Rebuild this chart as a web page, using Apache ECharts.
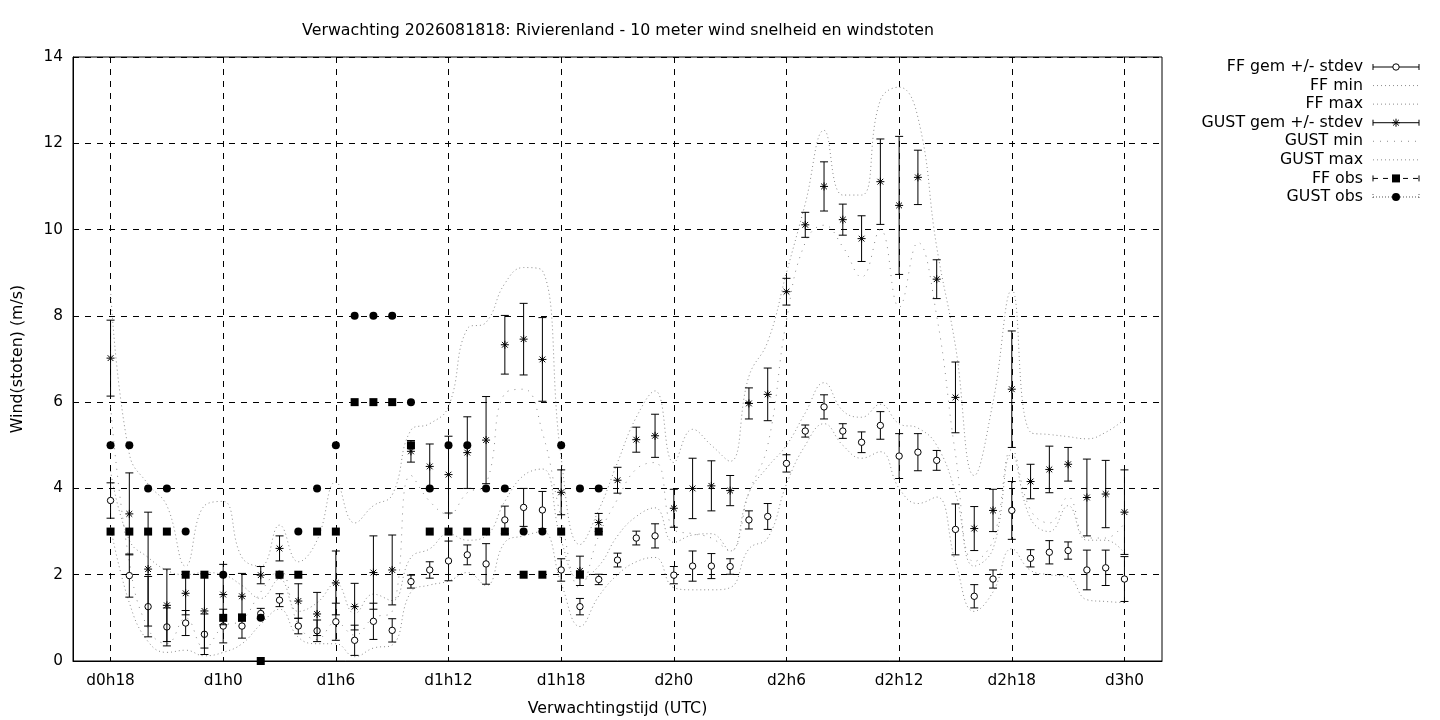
<!DOCTYPE html>
<html>
<head>
<meta charset="utf-8">
<script src="https://cdn.jsdelivr.net/npm/echarts@6/dist/echarts.min.js"></script>
<style>
html,body{margin:0;padding:0;background:#fff;}
#chart{width:1440px;height:720px;}
</style>
</head>
<body>
<div id="chart"></div>
<script>
// ---------- tick labels / categories (hourly, d0h16 .. d3h2) ----------
const categories = [
  'd0h16','d0h17','d0h18','d0h19','d0h20','d0h21','d0h22','d0h23',
  'd1h0','d1h1','d1h2','d1h3','d1h4','d1h5','d1h6','d1h7','d1h8','d1h9','d1h10','d1h11',
  'd1h12','d1h13','d1h14','d1h15','d1h16','d1h17','d1h18','d1h19','d1h20','d1h21','d1h22','d1h23',
  'd2h0','d2h1','d2h2','d2h3','d2h4','d2h5','d2h6','d2h7','d2h8','d2h9','d2h10','d2h11',
  'd2h12','d2h13','d2h14','d2h15','d2h16','d2h17','d2h18','d2h19','d2h20','d2h21','d2h22','d2h23',
  'd3h0','d3h1','d3h2'
];
const firstIndex = 2;          // forecast/observation series start at d0h18
const labelStep = 6;           // a label every 6 hours
const yTicks = [0, 2, 4, 6, 8, 10, 12, 14];

// ---------- forecast series (d0h18 .. d3h0) ----------
const ffMean = [3.72,1.98,1.26,0.79,0.88,0.62,0.81,0.81,1.10,1.41,0.81,0.70,0.91,0.48,0.92,0.71,
  1.84,2.11,2.32,2.46,2.25,3.27,3.56,3.50,2.11,1.26,1.89,2.34,2.85,2.90,1.99,2.20,2.20,2.19,
  3.27,3.35,4.58,5.33,5.89,5.33,5.07,5.46,4.75,4.84,4.65,3.05,1.50,1.90,3.49,2.38,2.52,2.56,2.11,2.16,1.90];
const ffStd = [0.41,0.50,0.70,0.44,0.29,0.47,0.39,0.28,0.12,0.15,0.18,0.25,0.43,0.35,0.42,0.27,
  0.15,0.19,0.46,0.23,0.47,0.32,0.44,0.43,0.26,0.19,0.12,0.16,0.16,0.28,0.20,0.35,0.29,0.18,
  0.21,0.30,0.20,0.14,0.28,0.17,0.24,0.32,0.52,0.43,0.23,0.59,0.27,0.21,0.67,0.20,0.27,0.20,0.46,0.41,0.52];
const ffMin = [3.10,1.35,0.45,0.20,0.25,0.12,0.20,0.40,0.85,1.20,0.55,0.40,0.40,0.10,0.30,0.37,
  1.60,1.76,1.85,2.05,1.75,2.75,2.90,3.00,1.80,0.80,1.50,2.00,2.30,2.40,1.70,1.65,1.65,1.70,
  2.60,2.85,4.10,5.00,5.50,5.00,4.70,4.85,4.00,3.65,3.80,2.30,1.15,1.60,2.60,2.10,2.00,1.95,1.42,1.38,1.35];
const ffMax = [4.40,2.80,2.40,2.10,2.00,2.05,2.00,1.75,1.45,1.90,1.15,1.35,1.80,1.10,1.55,1.40,
  2.40,2.60,2.95,2.80,2.90,3.70,4.30,4.45,2.80,1.90,2.20,2.90,3.35,3.55,2.75,2.92,2.95,2.55,
  3.90,4.50,5.00,5.75,6.45,5.80,5.65,5.95,5.50,5.40,5.00,3.90,2.20,2.60,4.80,3.30,3.00,3.60,2.80,2.80,2.50];
const gustMean = [7.02,3.41,2.13,1.29,1.57,1.16,1.54,1.50,1.99,2.61,1.39,1.09,1.81,1.26,2.05,2.11,
  4.86,4.51,4.32,4.83,5.12,7.33,7.46,6.99,3.91,2.09,3.21,4.19,5.13,5.22,3.54,4.00,4.06,3.95,
  5.97,6.18,8.56,10.11,11.00,10.23,9.79,11.11,10.56,11.21,8.85,6.11,3.07,3.49,6.30,4.16,4.44,4.56,3.79,3.87,3.45];
const gustStd = [0.88,0.95,1.32,0.84,0.50,0.86,0.70,0.53,0.20,0.29,0.40,0.50,0.74,0.54,0.85,0.81,
  0.25,0.52,0.89,0.83,1.01,0.68,0.83,0.97,0.52,0.34,0.21,0.30,0.29,0.50,0.44,0.70,0.58,0.35,
  0.36,0.61,0.31,0.29,0.57,0.36,0.53,0.99,1.60,0.63,0.45,0.82,0.51,0.49,1.35,0.40,0.54,0.39,0.89,0.78,0.98];
const gustMin = [5.90,2.30,0.75,0.40,1.00,0.30,0.80,0.95,1.60,2.10,0.85,0.50,0.90,0.60,1.00,1.15,
  4.30,3.70,3.40,3.90,4.10,6.20,6.30,5.30,3.30,1.70,2.90,3.75,4.45,4.60,3.05,2.95,2.85,2.55,
  3.90,5.00,7.90,9.70,10.10,9.60,8.90,10.00,8.20,9.70,8.00,4.80,2.30,2.80,4.90,3.50,3.20,3.80,2.85,2.85,3.20];
const gustMax = [8.60,4.80,4.10,3.60,2.20,3.60,3.70,2.40,2.20,3.15,2.30,2.80,4.15,3.20,3.60,3.85,
  5.35,5.50,5.90,7.70,7.85,8.75,9.12,9.05,4.70,2.70,3.50,4.60,5.65,6.26,4.60,5.37,5.00,4.63,
  6.60,7.40,9.00,10.60,12.30,10.80,10.80,13.00,13.30,12.60,9.60,7.30,4.30,6.00,8.60,5.30,5.25,5.20,5.15,5.30,5.60];

// ---------- observations (d0h18 .. d1h20) ----------
const ffObs   = [3,3,3,3,2,2,1,1,0,2,2,3,3,6,6,6,5,3,3,3,3,3,2,2,3,2,3];
const gustObs = [5,5,4,4,3,null,2,null,1,2,3,4,5,8,8,8,6,4,5,5,4,4,3,3,5,4,4];

const legendLabels = ['FF gem +/- stdev','FF min','FF max','GUST gem +/- stdev','GUST min','GUST max','FF obs','GUST obs'];

// ---------- helpers ----------
const FONT = 'DejaVu Sans';
const FS = 15.8;
const FS_TICK = 15.3;
const pairs = arr => arr.map((v, i) => [i + firstIndex, v]).filter(p => p[1] !== null);
const bars = (m, s) => m.map((v, i) => [i + firstIndex, v, s[i]]);
const showTick = idx => (idx - firstIndex) % labelStep === 0;

function starShapes(cx, cy, r, st) {
  const d = r * 0.72;
  return [
    {type:'line', shape:{x1:cx-r,y1:cy,x2:cx+r,y2:cy}, style:st},
    {type:'line', shape:{x1:cx,y1:cy-r,x2:cx,y2:cy+r}, style:st},
    {type:'line', shape:{x1:cx-d,y1:cy-d,x2:cx+d,y2:cy+d}, style:st},
    {type:'line', shape:{x1:cx-d,y1:cy+d,x2:cx+d,y2:cy-d}, style:st}
  ];
}

function errorBar(marker) {
  return function (params, api) {
    const x = api.value(0), m = api.value(1), s = api.value(2);
    const top = api.coord([x, m + s]);
    const bot = api.coord([x, m - s]);
    const mid = api.coord([x, m]);
    const st = {stroke:'#000', lineWidth:1};
    const children = [
      {type:'line', shape:{x1:top[0],y1:top[1],x2:bot[0],y2:bot[1]}, style:st},
      {type:'line', shape:{x1:top[0]-4,y1:top[1],x2:top[0]+4,y2:top[1]}, style:st},
      {type:'line', shape:{x1:bot[0]-4,y1:bot[1],x2:bot[0]+4,y2:bot[1]}, style:st}
    ];
    if (marker === 'circle') {
      children.push({type:'circle', shape:{cx:mid[0], cy:mid[1], r:3.2}, style:{fill:'#fff', stroke:'#000', lineWidth:1}});
    } else {
      children.push.apply(children, starShapes(mid[0], mid[1], 4, st));
    }
    return {type:'group', children};
  };
}

const curveColor = '#8c8c8c';
function curve(name, data, dash) {
  return {
    name, type:'line', data: pairs(data), smooth: 0.45, symbol:'none',
    lineStyle:{color:curveColor, width:1, type:dash}, z:3, silent:true
  };
}

// ---------- legend drawn in gnuplot style (text, then sample) ----------
const legX = 1363, sx1 = 1373, sx2 = 1419, smid = 1396;
const legY0 = 67, legDy = 18.57;
const legendGraphics = [];
legendLabels.forEach((lab, i) => {
  const y = legY0 + i * legDy;
  legendGraphics.push({type:'text', x:legX, y:y, style:{text:lab, font:FS + 'px "' + FONT + '"', fill:'#000', textAlign:'right', textVerticalAlign:'middle'}});
  const blk = {stroke:'#000', lineWidth:1};
  const grey = dash => ({stroke:curveColor, lineWidth:1, lineDash:dash});
  const ln = (style) => ({type:'line', shape:{x1:sx1,y1:y,x2:sx2,y2:y}, style});
  const caps = (style) => [
    {type:'line', shape:{x1:sx1,y1:y-3,x2:sx1,y2:y+3}, style},
    {type:'line', shape:{x1:sx2,y1:y-3,x2:sx2,y2:y+3}, style}
  ];
  if (i === 0) {
    legendGraphics.push(ln(blk), ...caps(blk), {type:'circle', shape:{cx:smid, cy:y, r:3.2}, style:{fill:'#fff', stroke:'#000', lineWidth:1}});
  } else if (i === 3) {
    legendGraphics.push(ln(blk), ...caps(blk), ...starShapes(smid, y, 4, blk));
  } else if (i === 1 || i === 2 || i === 5) {
    legendGraphics.push(ln(grey([1,3])));
  } else if (i === 4) {
    legendGraphics.push(ln(grey([1,6])));
  } else if (i === 6) {
    const st = {stroke:'#000', lineWidth:1, lineDash:[5,5]};
    legendGraphics.push(ln(st), ...caps({stroke:'#000', lineWidth:1}), {type:'rect', shape:{x:smid-4, y:y-4, width:8, height:8}, style:{fill:'#000'}});
  } else if (i === 7) {
    const st = {stroke:'#555', lineWidth:1, lineDash:[1,2]};
    legendGraphics.push(ln(st), ...caps(st), {type:'circle', shape:{cx:smid, cy:y, r:4}, style:{fill:'#000'}});
  }
});

const chart = echarts.init(document.getElementById('chart'), null, {renderer:'canvas'});
chart.setOption({
  animation:false,
  backgroundColor:'#fff',
  textStyle:{fontFamily:FONT},
  title:{
    text:'Verwachting 2026081818: Rivierenland - 10 meter wind snelheid en windstoten',
    left:613, top:18, textAlign:'center',
    textStyle:{fontFamily:FONT, fontSize:FS, fontWeight:'normal', color:'#000'}
  },
  grid:{left:73, right:278, top:57, bottom:59, containLabel:false, outerBoundsMode:'none',
    show:true, borderColor:'#000', borderWidth:1, backgroundColor:'transparent'},
  xAxis:{
    type:'category', data:categories, boundaryGap:false,
    name:'Verwachtingstijd (UTC)', nameLocation:'middle', nameGap:40,
    nameTextStyle:{fontFamily:FONT, fontSize:FS, color:'#000'},
    axisLine:{show:true, lineStyle:{color:'#000', width:1}},
    axisTick:{show:false},
    axisLabel:{interval:(idx) => showTick(idx), margin:13, fontFamily:FONT, fontSize:FS_TICK, color:'#000'},
    splitLine:{show:true, interval:(idx) => showTick(idx), lineStyle:{color:'#000', width:1, type:[6,6]}}
  },
  yAxis:{
    type:'value', min:yTicks[0], max:yTicks[yTicks.length-1], interval:yTicks[1]-yTicks[0],
    name:'Wind(stoten) (m/s)', nameLocation:'middle', nameGap:47, nameRotate:90,
    nameTextStyle:{fontFamily:FONT, fontSize:FS, color:'#000'},
    axisLine:{show:true, lineStyle:{color:'#000', width:1}},
    axisTick:{show:false},
    axisLabel:{margin:10, fontFamily:FONT, fontSize:FS_TICK, color:'#000'},
    splitLine:{show:true, lineStyle:{color:'#000', width:1, type:[6,6]}}
  },
  graphic: legendGraphics,
  series:[
    {name:legendLabels[0], type:'custom', renderItem:errorBar('circle'), data:bars(ffMean, ffStd), z:4, silent:true,
      encode:{x:0, y:1}},
    curve(legendLabels[1], ffMin, [1,3]),
    curve(legendLabels[2], ffMax, [1,3]),
    {name:legendLabels[3], type:'custom', renderItem:errorBar('star'), data:bars(gustMean, gustStd), z:4, silent:true,
      encode:{x:0, y:1}},
    curve(legendLabels[4], gustMin, [1,6]),
    curve(legendLabels[5], gustMax, [1,3]),
    {name:legendLabels[6], type:'scatter', data:pairs(ffObs), symbol:'rect', symbolSize:8,
      itemStyle:{color:'#000', opacity:1}, z:5, silent:true},
    {name:legendLabels[7], type:'scatter', data:pairs(gustObs), symbol:'circle', symbolSize:8,
      itemStyle:{color:'#000', opacity:1}, z:6, silent:true}
  ]
});
</script>
</body>
</html>
